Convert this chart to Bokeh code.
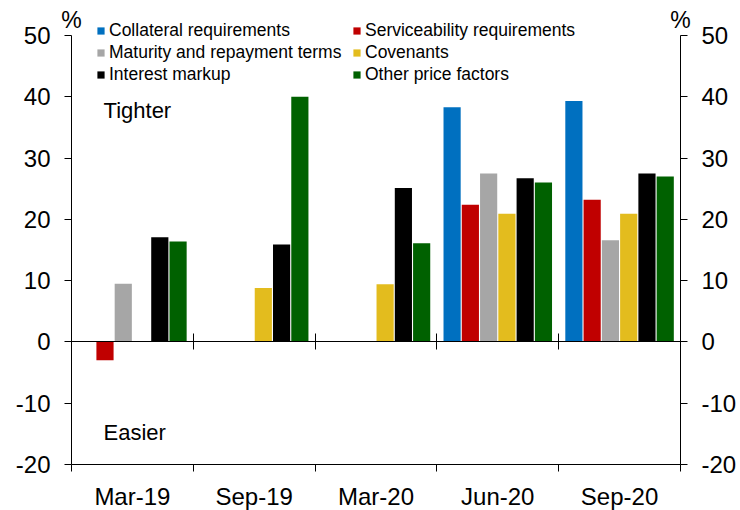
from bokeh.plotting import figure
from bokeh.models import (ColumnDataSource, Range1d, LinearAxis, FixedTicker,
                          Label, Legend, LegendItem)
from bokeh.transform import dodge
from bokeh.embed import file_html
from bokeh.resources import INLINE

nan = float("nan")

# Survey quarters and net percentage responses per lending condition
quarters = ["Mar-19", "Sep-19", "Mar-20", "Jun-20", "Sep-20"]
collateral = [nan, nan, nan, 38.3, 39.3]
serviceability = [-3.0, nan, nan, 22.4, 23.2]
maturity = [9.5, nan, nan, 27.5, 16.6]
covenants = [nan, 8.8, 9.4, 20.9, 20.9]
interest = [17.1, 15.9, 25.1, 26.7, 27.5]
other_price = [16.4, 40.0, 16.1, 26.0, 27.0]

series_keys = ["collateral", "serviceability", "maturity", "covenants", "interest", "other"]
series_names = ["Collateral requirements", "Serviceability requirements",
                "Maturity and repayment terms", "Covenants",
                "Interest markup", "Other price factors"]
series_colors = ["#0070C0", "#C00000", "#A6A6A6", "#E3BC1E", "#000000", "#006100"]

y_ticks = [-20, -10, 0, 10, 20, 30, 40, 50]
y_tick_labels = ["-20", "-10", "0", "10", "20", "30", "40", "50"]
y_min, y_max = -20, 50

FONT = "Liberation Sans"
n = len(quarters)

source = ColumnDataSource(dict(
    x=[i + 0.5 for i in range(n)],
    collateral=collateral,
    serviceability=serviceability,
    maturity=maturity,
    covenants=covenants,
    interest=interest,
    other=other_price,
))

# The frame fills the canvas; axes are pinned at fixed data locations so the
# legend and unit labels can sit outside the plotted area without clipping.
p = figure(width=740, height=510,
           x_range=Range1d(-0.583, n + 0.493), y_range=Range1d(-27.5, 55.71),
           x_axis_location=None, y_axis_location=None,
           output_backend="svg", toolbar_location=None,
           min_border_left=0, min_border_right=0, min_border_top=0, min_border_bottom=0)
p.outline_line_color = None
p.grid.visible = False
p.background_fill_color = "white"
p.border_fill_color = "white"

# grouped bars: six slots per quarter
slot = 0.9 / len(series_keys)
renderers = []
for k, (key, color) in enumerate(zip(series_keys, series_colors)):
    off = (k - (len(series_keys) - 1) / 2) * slot
    r = p.vbar(x=dodge("x", off, range=p.x_range), top=key, width=slot * 0.94,
               source=source, fill_color=color, line_color=None)
    renderers.append(r)

bounds = list(range(n + 1))

# y axes on both sides
def make_y_axis(loc):
    ax = LinearAxis(fixed_location=loc, bounds=(y_min, y_max))
    ax.ticker = FixedTicker(ticks=y_ticks)
    ax.major_label_overrides = {t: s for t, s in zip(y_ticks, y_tick_labels)}
    ax.major_tick_out = 7
    ax.major_tick_in = 0
    ax.minor_tick_line_color = None
    ax.major_label_standoff = 14
    ax.major_label_text_font = FONT
    ax.major_label_text_font_size = "24px"
    ax.major_label_text_color = "black"
    ax.axis_line_color = "black"
    ax.major_tick_line_color = "black"
    return ax

p.add_layout(make_y_axis(0), "left")
p.add_layout(make_y_axis(n), "right")

# x axis: labels at quarter centres, ticks at boundaries
xa = LinearAxis(fixed_location=y_min, bounds=(0, n))
xa.ticker = FixedTicker(ticks=[i + 0.5 for i in range(n)], minor_ticks=bounds)
xa.major_label_overrides = {i + 0.5: q for i, q in enumerate(quarters)}
xa.major_tick_line_color = None
xa.major_tick_out = 7
xa.major_tick_in = 0
xa.minor_tick_out = 7
xa.minor_tick_in = 0
xa.minor_tick_line_color = "black"
xa.axis_line_color = "black"
xa.major_label_standoff = 11
xa.major_label_text_font = FONT
xa.major_label_text_font_size = "24px"
xa.major_label_text_color = "black"
p.add_layout(xa, "below")

# zero line with category separators crossing it
za = LinearAxis(fixed_location=0, bounds=(0, n))
za.ticker = FixedTicker(ticks=[], minor_ticks=bounds)
za.major_tick_line_color = None
za.major_label_text_alpha = 0
za.minor_tick_in = 8
za.minor_tick_out = 8
za.minor_tick_line_color = "black"
za.axis_line_color = "black"
p.add_layout(za, "below")

# legends: two columns
def make_legend(idx, loc):
    leg = Legend(items=[LegendItem(label=series_names[i], renderers=[renderers[i]]) for i in idx],
                 location=loc)
    leg.label_text_font = FONT
    leg.label_text_font_size = "17.5px"
    leg.label_text_color = "black"
    leg.glyph_width = 9
    leg.glyph_height = 9
    leg.label_standoff = 4
    leg.label_height = 20
    leg.spacing = 1
    leg.padding = 0
    leg.margin = 0
    leg.border_line_color = None
    leg.background_fill_alpha = 0
    return leg

p.add_layout(make_legend([0, 2, 4], (96, 425)))
p.add_layout(make_legend([1, 3, 5], (352, 425)))

# annotations
for txt, yv in [("Tighter", 37.7), ("Easier", -14.8)]:
    p.add_layout(Label(x=0.263, y=yv, text=txt, text_font=FONT, text_font_size="22px",
                       text_color="black", text_baseline="alphabetic"))
for xv in [0, n]:
    p.add_layout(Label(x=xv, y=52.5, text="%", text_font=FONT, text_font_size="23px",
                       text_color="black", text_align="center", text_baseline="alphabetic"))

open("out.html", "w").write(file_html(p, INLINE))
